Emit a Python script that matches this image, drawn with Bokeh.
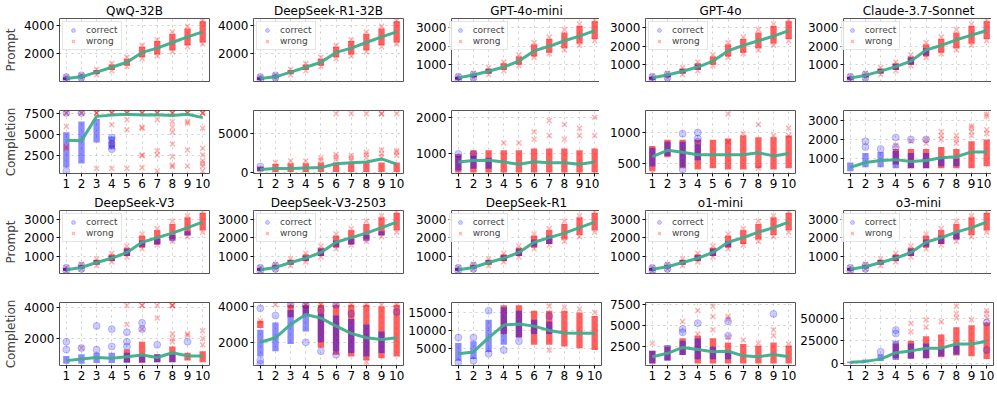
from bokeh.plotting import figure
from bokeh.layouts import gridplot
from bokeh.models import Range1d, FixedTicker, Legend, LegendItem, ColumnDataSource
from bokeh.embed import file_html
from bokeh.resources import INLINE

LEVELS = [1, 2, 3, 4, 5, 6, 7, 8, 9, 10]
ROW_A = ["QwQ-32B", "DeepSeek-R1-32B", "GPT-4o-mini", "GPT-4o", "Claude-3.7-Sonnet"]
ROW_B = ["DeepSeek-V3", "DeepSeek-V3-2503", "DeepSeek-R1", "o1-mini", "o3-mini"]
N = None

# ---------------- Prompt tokens ----------------
PROMPT_MEAN = {
    "QwQ-32B": [250, 370, 700, 1050, 1400, 2100, 2400, 2800, 3200, 3550],
    "DeepSeek-R1-32B": [250, 370, 700, 1050, 1400, 2100, 2400, 2800, 3200, 3550],
    "GPT-4o-mini": [300, 450, 650, 880, 1200, 1750, 2000, 2300, 2550, 2850],
    "GPT-4o": [300, 450, 650, 880, 1200, 1750, 2050, 2300, 2550, 2850],
    "Claude-3.7-Sonnet": [290, 430, 660, 900, 1200, 1800, 2050, 2350, 2600, 2850],
    "DeepSeek-V3": [250, 380, 650, 880, 1200, 1750, 2000, 2250, 2550, 2850],
    "DeepSeek-V3-2503": [250, 380, 650, 880, 1200, 1750, 2000, 2250, 2550, 2850],
    "DeepSeek-R1": [250, 380, 650, 880, 1200, 1750, 2000, 2250, 2550, 2850],
    "o1-mini": [280, 420, 650, 880, 1200, 1750, 2000, 2300, 2550, 2850],
    "o3-mini": [280, 420, 650, 880, 1200, 1750, 2000, 2300, 2550, 2850],
}
QWEN_PROMPT_WRONG = [(150, 330), (300, 460), (560, 850), (850, 1250), (1150, 1650),
                     (1750, 2500), (1950, 2900), (2250, 3400), (2600, 3800), (2800, 4300)]
OTHER_PROMPT_WRONG = [(200, 360), (330, 520), (520, 800), (720, 1080), (1000, 1450),
                      (1450, 2100), (1650, 2400), (1900, 2750), (2150, 3100), (2400, 3350)]
QWEN_PROMPT_WRONG_PTS = {1: [120, 360], 2: [280, 490], 3: [520, 900], 4: [800, 1320],
                         5: [1100, 1750], 6: [1650, 2600], 7: [1850, 3000], 8: [2150, 3550],
                         9: [2500, 3950], 10: [2700, 4350]}
OTHER_PROMPT_WRONG_PTS = {1: [180, 380], 2: [300, 550], 3: [480, 850], 4: [680, 1150],
                          5: [950, 1550], 6: [1400, 2200], 7: [1600, 2500], 8: [1800, 2900],
                          9: [2050, 3200], 10: [2300, 3420]}
PROMPT_CORRECT_PTS = {1: [180, 360], 2: [300, 480]}
PROMPT_WRONG_BAND = {
    "QwQ-32B": QWEN_PROMPT_WRONG, "DeepSeek-R1-32B": QWEN_PROMPT_WRONG,
    "GPT-4o-mini": OTHER_PROMPT_WRONG, "GPT-4o": OTHER_PROMPT_WRONG,
    "Claude-3.7-Sonnet": OTHER_PROMPT_WRONG, "DeepSeek-V3": OTHER_PROMPT_WRONG,
    "DeepSeek-V3-2503": OTHER_PROMPT_WRONG, "DeepSeek-R1": OTHER_PROMPT_WRONG,
    "o1-mini": OTHER_PROMPT_WRONG, "o3-mini": OTHER_PROMPT_WRONG,
}
PROMPT_WRONG_PTS = {
    "QwQ-32B": QWEN_PROMPT_WRONG_PTS, "DeepSeek-R1-32B": QWEN_PROMPT_WRONG_PTS,
    "GPT-4o-mini": OTHER_PROMPT_WRONG_PTS, "GPT-4o": OTHER_PROMPT_WRONG_PTS,
    "Claude-3.7-Sonnet": OTHER_PROMPT_WRONG_PTS, "DeepSeek-V3": OTHER_PROMPT_WRONG_PTS,
    "DeepSeek-V3-2503": OTHER_PROMPT_WRONG_PTS, "DeepSeek-R1": OTHER_PROMPT_WRONG_PTS,
    "o1-mini": OTHER_PROMPT_WRONG_PTS, "o3-mini": OTHER_PROMPT_WRONG_PTS,
}
PROMPT_CORRECT_BAND = {
    "QwQ-32B": [(170, 330), (320, 440), (600, 800), N, N, N, N, N, N, N],
    "DeepSeek-R1-32B": [(170, 330), (320, 440), N, N, N, N, N, N, N, N],
    "GPT-4o-mini": [(220, 350), (350, 500), (550, 760), N, N, N, N, N, N, N],
    "GPT-4o": [(220, 350), (350, 500), (550, 780), (750, 1000), N, N, N, N, N, N],
    "Claude-3.7-Sonnet": [(220, 350), (350, 500), (540, 780), (740, 1050), (1000, 1400),
                          (1500, 1900), N, N, N, N],
    "DeepSeek-V3": [(200, 330), (320, 460), (540, 770), (740, 1020), (1000, 1400),
                    (1500, 1850), (1600, 1950), (1800, 2150), (2100, 2350), N],
    "DeepSeek-V3-2503": [(200, 330), (320, 460), (540, 770), (740, 1020), (1000, 1400),
                         (1500, 1850), (1600, 1950), (1800, 2150), (2100, 2350), N],
    "DeepSeek-R1": [(200, 330), (320, 460), (540, 780), (740, 1050), (1000, 1400),
                    (1500, 1900), (1650, 2100), N, N, N],
    "o1-mini": [(220, 350), (350, 500), (540, 780), (740, 1050), (1000, 1400),
                (1500, 1800), N, N, N, N],
    "o3-mini": [(220, 350), (350, 500), (540, 780), (740, 1050), (1000, 1400),
                (1500, 1900), (1650, 2100), (1900, 2300), N, N],
}
PROMPT_YLIM = {
    "QwQ-32B": (40, 4500), "DeepSeek-R1-32B": (40, 4500), "GPT-4o-mini": (100, 3500),
    "GPT-4o": (100, 3500), "Claude-3.7-Sonnet": (100, 3500), "DeepSeek-V3": (50, 3480),
    "DeepSeek-V3-2503": (50, 3480), "DeepSeek-R1": (50, 3480), "o1-mini": (50, 3480),
    "o3-mini": (50, 3480),
}
PROMPT_YTICKS = {
    "QwQ-32B": [2000, 4000], "DeepSeek-R1-32B": [2000, 4000],
    "GPT-4o-mini": [1000, 2000, 3000], "GPT-4o": [1000, 2000, 3000],
    "Claude-3.7-Sonnet": [1000, 2000, 3000], "DeepSeek-V3": [1000, 2000, 3000],
    "DeepSeek-V3-2503": [1000, 2000, 3000], "DeepSeek-R1": [1000, 2000, 3000],
    "o1-mini": [1000, 2000, 3000], "o3-mini": [1000, 2000, 3000],
}

# ---------------- Completion tokens ----------------
COMP_MEAN = {
    "QwQ-32B": [4250, 4200, 7100, 7250, 7350, 7250, 7300, 7200, 7350, 6950],
    "DeepSeek-R1-32B": [400, 550, 550, 600, 650, 1150, 1250, 1350, 1750, 1100],
    "GPT-4o-mini": [780, 820, 830, 780, 720, 790, 760, 760, 720, 780],
    "GPT-4o": [610, 710, 680, 640, 640, 640, 640, 670, 620, 660],
    "Claude-3.7-Sonnet": [550, 800, 900, 950, 850, 900, 1050, 1100, 1350, 1350],
    "DeepSeek-V3": [600, 700, 800, 750, 850, 950, 800, 1100, 900, 900],
    "DeepSeek-V3-2503": [2000, 2250, 3000, 3550, 3350, 2900, 2500, 2250, 2150, 2250],
    "DeepSeek-R1": [3500, 4000, 8000, 11500, 11800, 11200, 10000, 9300, 9200, 9200],
    "o1-mini": [1300, 1700, 2400, 2150, 1900, 1950, 1400, 1300, 1550, 1300],
    "o3-mini": [1500, 2500, 5000, 12000, 14000, 17000, 17000, 21500, 21500, 24500],
}
COMP_CORRECT_BAND = {
    "QwQ-32B": [(1000, 5200), (1500, 6500), (4000, 6800), (3200, 4700), N, N, N, N, N, N],
    "DeepSeek-R1-32B": [(200, 700), N, N, N, N, N, N, N, N, N],
    "GPT-4o-mini": [(550, 950), (600, 950), (600, 900), N, N, N, N, N, N, N],
    "GPT-4o": [(450, 750), (620, 850), (450, 850), (550, 800), N, N, N, N, N, N],
    "Claude-3.7-Sonnet": [(350, 800), (550, 1300), (550, 1350), (500, 1400), (500, 1300),
                          (500, 1300), (600, 1100), (600, 1000), N, N],
    "DeepSeek-V3": [(400, 900), (400, 1000), (450, 1100), (450, 1100), (450, 1100),
                    (500, 1000), (500, 1000), (500, 1000), N, N],
    "DeepSeek-V3-2503": [(1200, 2700), (1500, 3100), (1900, 3800), (2600, 4000), (2000, 3600),
                         (1500, 3500), (1400, 3300), (1200, 3000), (1400, 2600), N],
    "DeepSeek-R1": [(1500, 6500), (2000, 7000), (4000, 13000), (6000, 16500), (8000, 15500),
                    (9000, 13000), (9000, 12500), N, N, N],
    "o1-mini": [(500, 2000), (800, 2700), (1500, 3200), (1000, 3500), (1000, 2500),
                (1000, 2000), N, N, N, N],
    "o3-mini": [(500, 2500), (1500, 4500), (3000, 10000), (4000, 25000), (5000, 22000),
                (6000, 22000), (8000, 18000), (10000, 20000), N, N],
}
COMP_WRONG_BAND = {
    "QwQ-32B": [N] * 10,
    "DeepSeek-R1-32B": [(150, 800), (100, 1100), (100, 1200), (100, 1200), (100, 1300),
                        (100, 1300), (100, 1300), (100, 1300), (100, 1300), (100, 1300)],
    "GPT-4o-mini": [(500, 1000), (500, 1100), (500, 1100), (500, 1100), (500, 1100),
                    (500, 1150), (500, 1150), (500, 1150), (500, 1100), (500, 1150)],
    "GPT-4o": [(380, 780), (600, 880), (420, 880), (400, 880), (420, 880),
               (400, 900), (400, 950), (420, 920), (400, 920), (420, 950)],
    "Claude-3.7-Sonnet": [N, N, N, (700, 1500), (500, 1500), (500, 1500), (500, 1600),
                          (500, 1500), (500, 1900), (600, 2000)],
    "DeepSeek-V3": [N, N, N, N, (500, 1300), (450, 1800), (500, 1000), (500, 1500),
                    (600, 1100), (500, 1200)],
    "DeepSeek-V3-2503": [(2800, 3200), N, (3400, 4100), (3500, 4100), (1700, 4100),
                         (1300, 4100), (1200, 4100), (1000, 4100), (1100, 4000), (1200, 4100)],
    "DeepSeek-R1": [N, N, N, (9000, 17000), (8000, 17000), (6000, 15500), (6000, 15500),
                    (5500, 15500), (5000, 15000), (4500, 14000)],
    "o1-mini": [(500, 2000), (900, 2500), (1500, 3500), (500, 3800), (500, 3500),
                (500, 3000), (500, 2800), (500, 2600), (500, 3000), (500, 2600)],
    "o3-mini": [N, N, N, (6000, 22000), (6000, 25000), (6000, 30000), (7000, 32000),
                (9000, 40000), (8000, 42000), (5000, 45000)],
}
COMP_CORRECT_PTS = {
    "QwQ-32B": {1: [7500, 600], 2: [7500], 4: [3200, 3800, 4600]},
    "DeepSeek-R1-32B": {1: [800]},
    "GPT-4o-mini": {1: [1000], 2: [1000]},
    "GPT-4o": {3: [980, 400], 4: [1000, 850, 900]},
    "Claude-3.7-Sonnet": {2: [1600, 1900], 3: [1500], 4: [1600, 2100], 5: [2000], 6: [2000]},
    "DeepSeek-V3": {1: [1800, 1300], 2: [1400], 3: [2800, 1300], 4: [2600, 1500],
                    5: [2400, 1800, 1500], 6: [3000, 2600], 7: [1600], 9: [1800]},
    "DeepSeek-V3-2503": {1: [800, 3900, 1000], 2: [3500], 3: [4100], 4: [2000, 4100],
                         5: [1500, 3800], 6: [1300, 4100], 7: [3600], 10: [3700]},
    "DeepSeek-R1": {1: [1000, 8000], 2: [8000, 1500], 3: [15500, 3500], 4: [4500], 5: [7000],
                    7: [14000]},
    "o1-mini": {3: [4600, 4200], 4: [5300], 6: [5500, 3800], 9: [6400]},
    "o3-mini": {3: [13000], 4: [33000, 37000], 10: [45000, 15000]},
}
COMP_WRONG_PTS = {
    "QwQ-32B": {1: [7500, 7500, 5900, 3500, 3300], 2: [7500, 7500],
                3: [7500, 7500, 7500, 900], 4: [7500, 7500, 7500, 6100, 3800, 900],
                5: [7500, 7500, 7500, 6700, 5500, 900],
                6: [7500, 7500, 7500, 5800, 5700, 2500, 2400, 1000],
                7: [7500, 7500, 7500, 6700, 3000, 2500, 600],
                8: [7500, 7500, 7500, 6500, 5800, 5200, 3800, 2300, 1300, 1100],
                9: [7500, 7500, 7500, 6500, 6300, 3100, 1200],
                10: [7500, 7500, 7500, 5700, 3300, 2500, 1800, 1500, 1200, 600]},
    "DeepSeek-R1-32B": {2: [1300], 3: [1500], 4: [1500], 5: [1600, 1900],
                        6: [1700, 2000, 2300, 7500], 7: [1600, 1900, 2200, 7500],
                        8: [1900, 2300, 2600, 7500], 9: [2000, 2400, 2900, 7500, 7500],
                        10: [2200, 2600, 2800, 7500]},
    "GPT-4o-mini": {4: [1300], 5: [1300], 6: [1400, 1600], 7: [1500, 1900], 8: [1400, 1800],
                    9: [1500, 1700], 10: [1500, 2000]},
    "GPT-4o": {1: [350], 6: [1300, 850], 7: [980], 8: [1130, 420], 9: [950], 10: [1070, 950]},
    "Claude-3.7-Sonnet": {4: [1700], 5: [1900], 6: [1800, 2000], 7: [2000, 2200, 2400],
                          8: [1800, 2000, 2200], 9: [2200, 2400, 2600, 2700],
                          10: [2300, 2500, 3200, 3300]},
    "DeepSeek-V3": {2: [1400], 5: [4100, 2900], 6: [4100, 4100, 2600], 7: [4100, 3300],
                    8: [4100, 4100, 4100, 2300, 2000, 1800], 9: [2300, 2200],
                    10: [2500, 2000, 1600]},
    "DeepSeek-V3-2503": {1: [3200], 2: [4100], 3: [4100], 4: [4100, 4100], 5: [4100, 4100],
                         6: [4100], 7: [4100], 8: [900, 4100], 9: [4100], 10: [4100]},
    "DeepSeek-R1": {7: [4500, 16800], 8: [16500], 9: [16000], 10: [15000]},
    "o1-mini": {1: [2900], 3: [5500], 4: [6800, 4000], 5: [7300, 6100, 4500],
                6: [6100, 5800, 3600], 7: [3300], 8: [2900], 9: [4500, 3800], 10: [2800]},
    "o3-mini": {5: [35000, 44000], 6: [40000, 48000], 7: [46000],
                8: [50000, 55000, 63000], 9: [48000], 10: [50000, 55000, 58000]},
}
COMP_YLIM = {
    "QwQ-32B": (300, 7800), "DeepSeek-R1-32B": (-100, 7900), "GPT-4o-mini": (470, 2180),
    "GPT-4o": (335, 1355), "Claude-3.7-Sonnet": (230, 3500), "DeepSeek-V3": (290, 4290),
    "DeepSeek-V3-2503": (700, 4225), "DeepSeek-R1": (200, 17800), "o1-mini": (250, 7760),
    "o3-mini": (-2000, 67000),
}
COMP_YTICKS = {
    "QwQ-32B": [2500, 5000, 7500], "DeepSeek-R1-32B": [0, 5000], "GPT-4o-mini": [1000, 2000],
    "GPT-4o": [500, 1000], "Claude-3.7-Sonnet": [1000, 2000, 3000],
    "DeepSeek-V3": [2000, 4000], "DeepSeek-V3-2503": [2000, 4000],
    "DeepSeek-R1": [5000, 10000, 15000], "o1-mini": [2500, 5000, 7500],
    "o3-mini": [0, 25000, 50000],
}

FONT = "DejaVu Sans"
GREEN = "#3cae8a"
FRAME_W, FRAME_H = 150, 63


def band_data(bands):
    xs, lo, hi = [], [], []
    for lv, b in zip(LEVELS, bands):
        if b:
            xs.append(lv)
            lo.append(b[0])
            hi.append(b[1])
    return dict(x=xs, bottom=lo, top=hi)


def pts_data(pts):
    xs, ys = [], []
    for lv in LEVELS:
        for v in pts.get(lv, []):
            xs.append(lv)
            ys.append(v)
    return dict(x=xs, y=ys)


def make_panel(model, kind, col):
    prompt = kind == "Prompt"
    if prompt:
        mean, cb, wb = PROMPT_MEAN[model], PROMPT_CORRECT_BAND[model], PROMPT_WRONG_BAND[model]
        cp, wp = PROMPT_CORRECT_PTS, PROMPT_WRONG_PTS[model]
        ylim, yt = PROMPT_YLIM[model], PROMPT_YTICKS[model]
    else:
        mean, cb, wb = COMP_MEAN[model], COMP_CORRECT_BAND[model], COMP_WRONG_BAND[model]
        cp, wp = COMP_CORRECT_PTS[model], COMP_WRONG_PTS[model]
        ylim, yt = COMP_YLIM[model], COMP_YTICKS[model]

    p = figure(frame_width=FRAME_W, frame_height=FRAME_H,
               x_range=Range1d(0.55, 10.45), y_range=Range1d(*ylim),
               output_backend="svg", toolbar_location=None,
               min_border_left=52 if col == 0 else 42, min_border_right=2,
               min_border_top=15 if prompt else 18, min_border_bottom=11 if prompt else 19,
               background_fill_color="white", border_fill_color="white")
    if prompt:
        p.title.text = model
        p.title.align = "center"
        p.title.text_font = FONT
        p.title.text_font_size = "12px"
        p.title.text_font_style = "normal"
        p.title.text_color = "black"
        p.title.standoff = 2

    p.outline_line_color = "#555555"
    p.outline_line_width = 1
    for g in (p.xgrid, p.ygrid):
        g.grid_line_color = "#bbbbbb"
        g.grid_line_alpha = 0.7
        g.grid_line_dash = "dotted"

    p.xaxis.ticker = FixedTicker(ticks=LEVELS, minor_ticks=[])
    p.yaxis.ticker = FixedTicker(ticks=yt, minor_ticks=[])
    for ax in (p.xaxis, p.yaxis):
        ax.axis_line_color = None
        ax.major_tick_line_color = "black"
        ax.major_tick_out = 3
        ax.major_tick_in = 0
        ax.minor_tick_out = 0
        ax.minor_tick_in = 0
        ax.major_label_standoff = 2
        ax.major_label_text_font = FONT
        ax.major_label_text_font_size = "12px"
        ax.major_label_text_color = "black"
    if prompt:
        p.xaxis.visible = False
    if col == 0:
        p.yaxis.axis_label = kind
        p.yaxis.axis_label_text_font = FONT
        p.yaxis.axis_label_text_font_size = "12px"
        p.yaxis.axis_label_text_font_style = "normal"
        p.yaxis.axis_label_standoff = 3

    p.vbar(x="x", bottom="bottom", top="top", width=0.42, source=ColumnDataSource(band_data(wb)),
           fill_color="red", fill_alpha=0.62, line_color=None)
    p.vbar(x="x", bottom="bottom", top="top", width=0.42, source=ColumnDataSource(band_data(cb)),
           fill_color="blue", fill_alpha=0.45, line_color=None)
    rw = p.scatter(x="x", y="y", source=ColumnDataSource(pts_data(wp)), marker="x", size=7,
                   line_color="red", line_alpha=0.3, line_width=1.5)
    rc = p.scatter(x="x", y="y", source=ColumnDataSource(pts_data(cp)), marker="circle", size=7,
                   fill_color="blue", fill_alpha=0.2, line_color="blue", line_alpha=0.2)
    p.line(LEVELS, mean, line_color=GREEN, line_width=3, line_alpha=0.95)

    if prompt:
        leg = Legend(items=[LegendItem(label="correct", renderers=[rc]),
                            LegendItem(label="wrong", renderers=[rw])],
                     location="top_left")
        leg.label_text_font = FONT
        leg.label_text_font_size = "9px"
        leg.label_height = 10
        leg.glyph_height = 10
        leg.glyph_width = 14
        leg.spacing = 1
        leg.padding = 3
        leg.margin = 3
        leg.label_standoff = 6
        leg.border_line_color = "#cccccc"
        leg.background_fill_alpha = 0.8
        p.add_layout(leg)
    return p


rows = []
for names in (ROW_A, ROW_B):
    rows.append([make_panel(m, "Prompt", i) for i, m in enumerate(names)])
    rows.append([make_panel(m, "Completion", i) for i, m in enumerate(names)])

grid = gridplot(rows, toolbar_location=None)
open("out.html", "w").write(file_html(grid, INLINE))
